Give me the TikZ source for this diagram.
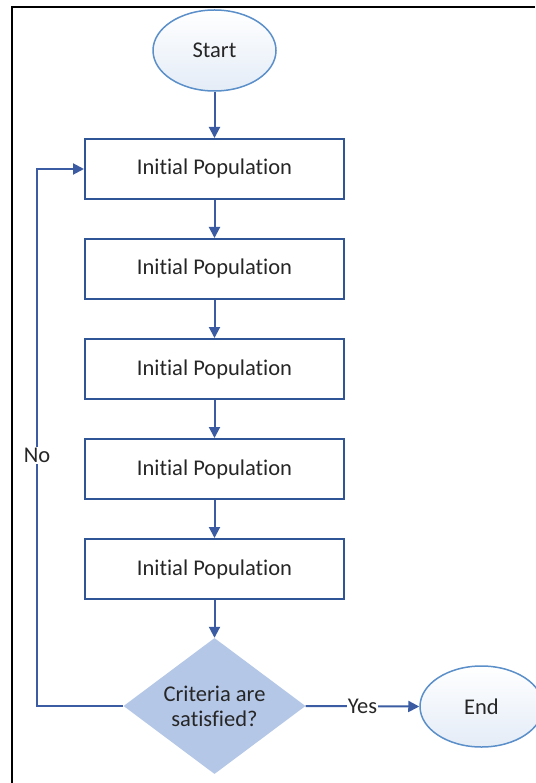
\documentclass[tikz,border=0pt]{standalone}
\usepackage{fontspec}
\setmainfont{Carlito}[Ligatures=NoCommon]
\usetikzlibrary{shapes.geometric,arrows.meta}
\definecolor{flowline}{HTML}{3B5CA2}
\definecolor{boxline}{HTML}{2F5597}
\definecolor{ovalline}{HTML}{5B8FC9}
\definecolor{ovalfill}{HTML}{E4ECF7}
\definecolor{decfill}{HTML}{B4C7E7}
\definecolor{ink}{HTML}{262626}
\tikzset{
  txt/.style={font=\fontsize{22.5}{25}\selectfont, text=ink},
  oval/.style={txt, ellipse, draw=ovalline, line width=1.5pt,
    top color=white, bottom color=ovalfill,
    minimum width=123pt, minimum height=81pt, inner sep=0pt},
  stepbox/.style={txt, rectangle, draw=boxline, fill=white, line width=2pt,
    minimum width=259pt, minimum height=60pt, inner sep=0pt},
  decision/.style={txt, diamond, fill=decfill, draw=none, aspect=1.34,
    minimum width=182pt, minimum height=136pt, inner sep=0pt, align=center},
  arr/.style={draw=flowline, line width=2pt,
    -{Triangle[length=11pt,width=11pt]}},
  lbl/.style={txt, fill=white, inner sep=1pt},
}
\begin{document}
\begin{tikzpicture}[x=1pt,y=-1pt]
\useasboundingbox (0,0) rectangle (535,783);
% page frame
\draw[line width=2pt, black] (12,783) -- (12,7) -- (535,7);

% nodes
\node[oval] (start) at (214.5,50.5) {Start};
\node[stepbox] (p1) at (214.5,169) {Initial Population};
\node[stepbox] (p2) at (214.5,269) {Initial Population};
\node[stepbox] (p3) at (214.5,369) {Initial Population};
\node[stepbox] (p4) at (214.5,469) {Initial Population};
\node[stepbox] (p5) at (214.5,569) {Initial Population};
\node[decision] (dec) at (214.5,706) {Criteria are\\satisfied?};
\node[oval] (end) at (481.5,706.5) {End};
\coordinate (turn) at (37,706);

% connectors
\draw[arr] (start) -- (p1);
\draw[arr] (p1) -- (p2);
\draw[arr] (p2) -- (p3);
\draw[arr] (p3) -- (p4);
\draw[arr] (p4) -- (p5);
\draw[arr] (p5) -- (dec);
\draw[arr] (dec.west) -- (turn) |- node[lbl, pos=0.233] {No} (p1.west);
\draw[arr] (dec.east) -- node[lbl] {Yes} (end.west);
\end{tikzpicture}
\end{document}
